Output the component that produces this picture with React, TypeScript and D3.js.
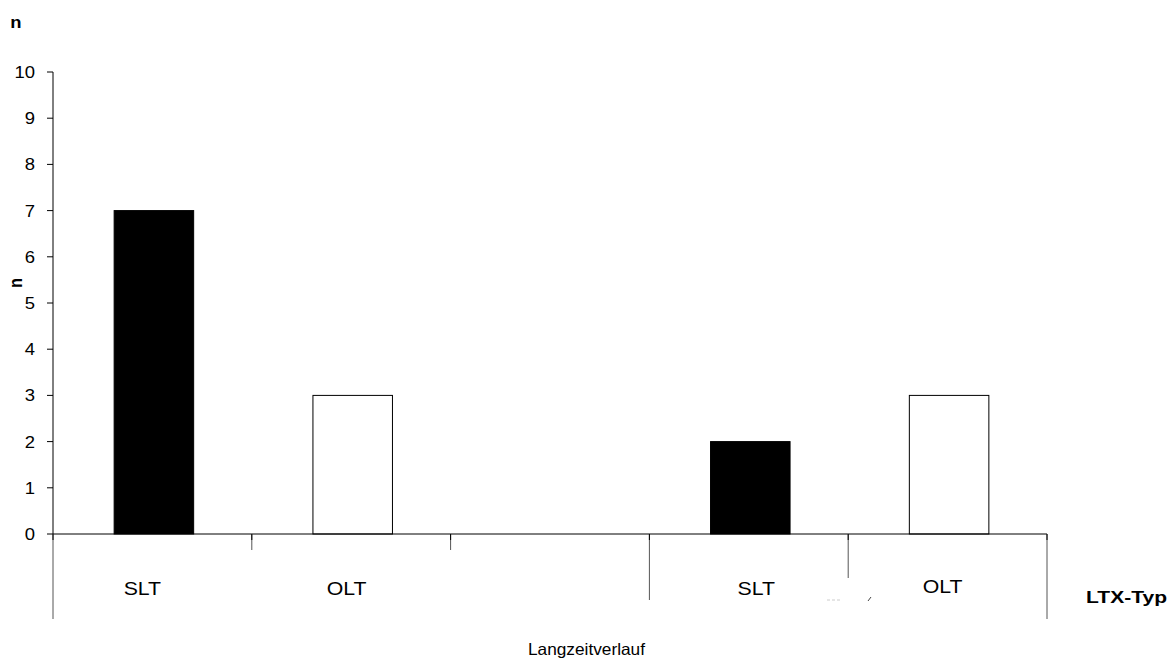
import React from "react";
import * as d3 from "d3";

// Patient counts by transplant type (SLT / OLT) in two groups
const categories = ["SLT", "OLT", "", "SLT", "OLT"];
const counts: (number | null)[] = [7, 3, null, 2, 3];
const barFills = ["#000", "#fff", "#fff", "#000", "#fff"];
const yTicks = [0, 1, 2, 3, 4, 5, 6, 7, 8, 9, 10];

// label nudges under each category slot (dx, baseline)
const labelDx = [-10, -4.5, 0, 7.5, -5];
const labelBaseline = [595, 595, 595, 595, 593];

const W = 1172;
const H = 661;
const left = 53;
const right = 1047;
const top = 72;
const bottom = 534;
const font = "'Liberation Sans', Arial, sans-serif";

type TProps = {
  x: number;
  y: number;
  sx?: number;
  size: number;
  anchor?: "start" | "middle" | "end";
  bold?: boolean;
  children: React.ReactNode;
};

// Text with slightly widened glyphs
function T({ x, y, sx = 1.12, size, anchor = "start", bold, children }: TProps) {
  return (
    <text
      transform={`translate(${x},${y}) scale(${sx},1)`}
      textAnchor={anchor}
      fontSize={size}
      fontWeight={bold ? "bold" : "normal"}
      fontFamily={font}
      fill="#000"
    >
      {children}
    </text>
  );
}

export default function App() {
  const x = d3
    .scaleBand<number>()
    .domain(categories.map((_, i) => i))
    .range([left, right])
    .padding(0);
  const y = d3.scaleLinear().domain([0, 10]).range([bottom, top]);
  const bw = x.bandwidth();
  const barW = bw * 0.4;

  // boundary lines below the axis: index -> lower end
  const boundaries = [
    { i: 0, y2: 619 },
    { i: 1, y2: 550 },
    { i: 2, y2: 550 },
    { i: 3, y2: 600 },
    { i: 4, y2: 578 },
    { i: 5, y2: 619 },
  ];

  return (
    <svg
      width={W}
      height={H}
      style={{ position: "absolute", left: 0, top: 0, background: "#fff" }}
      fontFamily={font}
    >
      <rect width={W} height={H} fill="#fff" />
      {/* bars */}
      {counts.map((v, i) =>
        v == null ? null : (
          <rect
            key={i}
            x={(x(i) as number) + (bw - barW) / 2 + 1.5}
            y={y(v)}
            width={barW}
            height={y(0) - y(v)}
            fill={barFills[i]}
            stroke="#000"
            strokeWidth={1}
          />
        )
      )}
      {/* y axis */}
      <line x1={left} x2={left} y1={top} y2={bottom} stroke="#000" />
      {yTicks.map((t) => (
        <g key={t}>
          <line x1={left - 6} x2={left} y1={y(t)} y2={y(t)} stroke="#000" />
          <T x={35} y={y(t) + 6} size={16.5} anchor="end">
            {t}
          </T>
        </g>
      ))}
      {/* x axis */}
      <line x1={left} x2={right} y1={bottom} y2={bottom} stroke="#000" />
      {boundaries.map((b) => {
        const bx = b.i < categories.length ? (x(b.i) as number) : right;
        return (
          <g key={b.i}>
            <line x1={bx} x2={bx} y1={bottom} y2={b.y2} stroke="#555" />
            <line x1={bx} x2={bx} y1={bottom} y2={bottom + 6} stroke="#000" />
          </g>
        );
      })}
      {categories.map((c, i) => (
        <T
          key={i}
          x={(x(i) as number) + bw / 2 + labelDx[i]}
          y={labelBaseline[i]}
          size={19}
          anchor="middle"
        >
          {c}
        </T>
      ))}
      {/* faint scan marks */}
      <line x1={827} x2={842} y1={600} y2={600} stroke="#ccc" strokeDasharray="3 2" />
      <line x1={868} x2={871} y1={601} y2={597} stroke="#444" />
      {/* titles */}
      <T x={16} y={28} size={16.5} anchor="middle" bold>
        n
      </T>
      <text
        transform={`translate(22, 283) rotate(-90) scale(1,1.12)`}
        textAnchor="middle"
        fontSize={16.5}
        fontWeight="bold"
        fontFamily={font}
      >
        n
      </text>
      <text
        x={1086}
        y={603}
        fontSize={16.5}
        fontWeight="bold"
        fontFamily={font}
        textLength={81}
        lengthAdjust="spacingAndGlyphs"
      >
        LTX-Typ
      </text>
      <text
        x={528}
        y={655}
        fontSize={16.5}
        fontFamily={font}
        textLength={117}
        lengthAdjust="spacingAndGlyphs"
      >
        Langzeitverlauf
      </text>
    </svg>
  );
}
